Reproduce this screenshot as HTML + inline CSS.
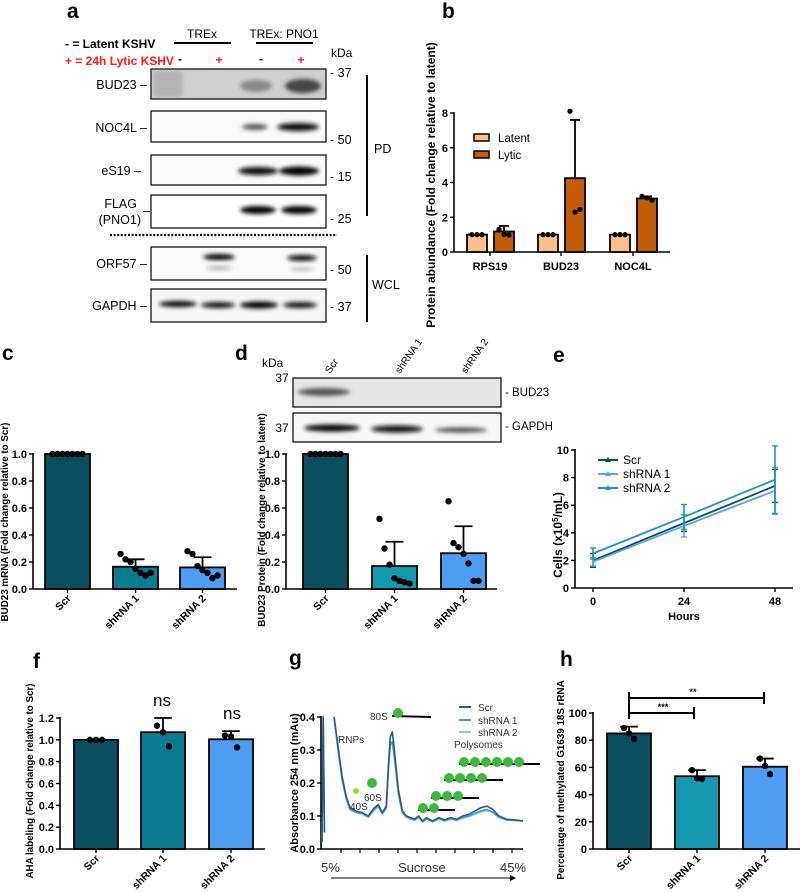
<!DOCTYPE html>
<html><head><meta charset="utf-8"><style>
html,body{margin:0;padding:0;background:#fff}
svg{display:block;font-family:"Liberation Sans",sans-serif}
</style></head><body>
<svg id="fig" width="800" height="892" viewBox="0 0 800 892" xmlns="http://www.w3.org/2000/svg">
<defs>
<filter id="blur2"><feGaussianBlur stdDeviation="2"/></filter>
</defs>
<g font-weight="bold" font-size="21" fill="#000">
<text x="67" y="18">a</text><text x="442" y="18">b</text><text x="2" y="360">c</text>
<text x="235" y="360">d</text><text x="553" y="362">e</text><text x="33" y="668">f</text>
<text x="289" y="665">g</text><text x="560" y="666">h</text>
</g>

<g id="panel-a" font-size="12">
<text x="65" y="48" font-weight="bold" font-size="12">-  = Latent KSHV</text>
<text x="65" y="65" font-weight="bold" font-size="12" fill="#ff1a1a">+ = 24h Lytic KSHV</text>
<text x="202" y="38" text-anchor="middle" font-size="12">TREx</text>
<line x1="174" y1="43" x2="231" y2="43" stroke="#000" stroke-width="2"/>
<text x="284" y="38" text-anchor="middle" font-size="12">TREx: PNO1</text>
<line x1="256" y1="43" x2="313" y2="43" stroke="#000" stroke-width="2"/>
<g font-weight="bold" font-size="12"><text x="180" y="63" text-anchor="middle">-</text><text x="219" y="64" text-anchor="middle" fill="#ff1a1a">+</text><text x="261" y="63" text-anchor="middle">-</text><text x="301" y="64" text-anchor="middle" fill="#ff1a1a">+</text></g>
<text x="331" y="57" font-size="12">kDa</text>
<rect x="151" y="69" width="175" height="30" fill="#cfcfcf" stroke="#000" stroke-width="1.2"/>
<rect x="151" y="111" width="175" height="31" fill="#fafafa" stroke="#000" stroke-width="1.2"/>
<rect x="151" y="155" width="175" height="30" fill="#fafafa" stroke="#000" stroke-width="1.2"/>
<rect x="151" y="195" width="175" height="33" fill="#fff" stroke="#000" stroke-width="1.2"/>
<rect x="151" y="247" width="175" height="33" fill="#fafafa" stroke="#000" stroke-width="1.2"/>
<rect x="151" y="289" width="175" height="33" fill="#f6f6f6" stroke="#000" stroke-width="1.2"/>
<g filter="url(#blur2)">
<rect x="153" y="71" width="30" height="26" fill="#999" opacity="0.5"/>
<ellipse cx="256" cy="86" rx="16" ry="6" fill="#888"/>
<ellipse cx="303" cy="86" rx="18" ry="7" fill="#444"/>
<ellipse cx="255" cy="127" rx="13" ry="3" fill="#555"/>
<ellipse cx="298" cy="127" rx="21" ry="4" fill="#111"/>
<ellipse cx="258" cy="171" rx="20" ry="4" fill="#111"/>
<ellipse cx="299" cy="171" rx="20" ry="4.5" fill="#000"/>
<ellipse cx="258" cy="210" rx="18" ry="4" fill="#000"/>
<ellipse cx="299" cy="210" rx="18" ry="4" fill="#000"/>
<ellipse cx="219" cy="257" rx="16" ry="3" fill="#000"/>
<ellipse cx="302" cy="258" rx="15" ry="3" fill="#111"/>
<ellipse cx="219" cy="268" rx="13" ry="1.5" fill="#999"/>
<ellipse cx="302" cy="269" rx="12" ry="1.5" fill="#aaa"/>
<ellipse cx="178" cy="304" rx="19" ry="3" fill="#000"/>
<ellipse cx="218" cy="305" rx="17" ry="3" fill="#111"/>
<ellipse cx="259" cy="305" rx="19" ry="3.5" fill="#000"/>
<ellipse cx="300" cy="305" rx="17" ry="3" fill="#111"/>
</g>
<g font-size="12.5" text-anchor="end">
<text x="147" y="89">BUD23 –</text><text x="147" y="132">NOC4L –</text><text x="141" y="175">eS19 –</text>
<text x="137" y="208">FLAG</text><text x="141" y="224">(PNO1)</text><text x="150" y="215">–</text>
<text x="147" y="268">ORF57 –</text><text x="147" y="310">GAPDH –</text>
</g>
<g font-size="12.5">
<text x="330" y="77">- 37</text><text x="330" y="144">- 50</text><text x="330" y="181">- 15</text>
<text x="330" y="223">- 25</text><text x="330" y="274">- 50</text><text x="330" y="311">- 37</text>
<text x="374" y="153">PD</text><text x="372" y="289">WCL</text>
</g>
<line x1="367" y1="75" x2="367" y2="216" stroke="#000" stroke-width="2"/>
<line x1="367" y1="255" x2="367" y2="322" stroke="#000" stroke-width="2"/>
<line x1="110" y1="235" x2="337" y2="235" stroke="#000" stroke-width="2.2" stroke-dasharray="2,1.6"/>
</g>

<g id="panel-d-blot" font-size="11">
<text x="262" y="367" font-size="12">kDa</text>
<text x="296" y="382" text-anchor="end" font-size="12">37 -</text>
<text x="296" y="432" text-anchor="end" font-size="12">37 -</text>
<rect x="293" y="378" width="208" height="29" fill="#e6e6e6" stroke="#000" stroke-width="1.2"/>
<rect x="293" y="413" width="208" height="29" fill="#f7f7f7" stroke="#000" stroke-width="1.2"/>
<g filter="url(#blur2)">
<ellipse cx="324" cy="392" rx="26" ry="4" fill="#555"/>
<ellipse cx="332" cy="428" rx="28" ry="3.5" fill="#000"/>
<ellipse cx="397" cy="429" rx="26" ry="3.5" fill="#111"/>
<ellipse cx="461" cy="430" rx="26" ry="2.5" fill="#444"/>
</g>
<text x="505" y="396" font-size="11.5">- BUD23</text>
<text x="505" y="430" font-size="11.5">- GAPDH</text>
<text transform="translate(330,374) rotate(-55)" font-size="10">Scr</text>
<text transform="translate(400,374) rotate(-55)" font-size="10">shRNA 1</text>
<text transform="translate(466,374) rotate(-55)" font-size="10">shRNA 2</text>
</g>

<g id="charts"></g>
</svg>
<script>
// Panel b
const bCategories = ["RPS19","BUD23","NOC4L"];
const bLatent = [1,1,1];
const bLytic = [1.18,4.25,3.08];
const bLyticErr = [1.5,7.6,3.2];
const bLatentDots = [[1,1,1],[1,1,1],[1,1,1]];
const bLyticDots = [[1.3,1.02,0.98],[8.1,2.3,2.45],[3.2,3.12,2.98]];
const bTicks = [0,2,4,6,8];
// Panel c
const cCategories = ["Scr","shRNA 1","shRNA 2"];
const cValues = [1.0,0.165,0.16];
const cErr = [1.0,0.22,0.235];
const cDots = [[1,1,1,1,1,1,1],[0.26,0.22,0.2,0.15,0.12,0.1,0.12],[0.28,0.26,0.17,0.14,0.12,0.08,0.1]];
const cTicks = [0,0.2,0.4,0.6,0.8,1.0];
// Panel d
const dCategories = ["Scr","shRNA 1","shRNA 2"];
const dValues = [1.0,0.17,0.265];
const dErr = [1.0,0.35,0.465];
const dDots = [[1,1,1,1,1,1,1],[0.52,0.3,0.18,0.08,0.06,0.05,0.04],[0.65,0.34,0.31,0.26,0.19,0.06,0.06]];
const dTicks = [0,0.2,0.4,0.6,0.8,1.0];
// Panel e
const eHours = [0,24,48];
const eScr = [2.0,4.7,7.4];
const eSh1 = [1.9,4.5,7.05];
const eSh2 = [2.5,5.15,7.85];
const eScrErr = [0.5,0.6,1.2];
const eSh1Err = [0.3,0.8,1.7];
const eSh2Err = [0.4,0.9,2.45];
const eYTicks = [0,2,4,6,8,10];
// Panel f
const fCategories = ["Scr","shRNA 1","shRNA 2"];
const fValues = [1.0,1.07,1.005];
const fErr = [1.0,1.2,1.08];
const fDots = [[1,1,1],[1.13,1.07,0.94],[1.04,1.03,0.93]];
const fTicks = [0,0.2,0.4,0.6,0.8,1.0,1.2];
// Panel g (fraction position 0..100 along gradient; null = gap)
const gX = [0,0.6,1.2,2,6,8,10,12,14,17,20,23,26,28,30,32,33,34,35,36,38,40,42,44,46,48,50,52,55,58,61,64,67,70,73,76,79,82,85,88,92,96,100];
const gScr = [0.02,0.4,0.05,null,0.4,0.31,0.22,0.16,0.125,0.115,0.11,0.10,0.125,0.135,0.11,0.13,0.25,0.34,0.355,0.3,0.18,0.115,0.1,0.095,0.09,0.1,0.085,0.095,0.085,0.095,0.088,0.095,0.09,0.1,0.105,0.115,0.125,0.13,0.12,0.1,0.09,0.088,0.085];
const gSh1 = [0.02,0.4,0.05,null,0.4,0.30,0.21,0.155,0.12,0.112,0.108,0.098,0.12,0.13,0.108,0.125,0.24,0.32,0.325,0.28,0.17,0.11,0.098,0.092,0.088,0.097,0.083,0.092,0.083,0.092,0.086,0.092,0.088,0.096,0.1,0.108,0.116,0.12,0.112,0.097,0.088,0.087,0.085];
const gSh2 = [0.02,0.4,0.05,null,0.4,0.30,0.21,0.152,0.118,0.11,0.106,0.096,0.118,0.128,0.106,0.122,0.235,0.315,0.32,0.275,0.165,0.108,0.096,0.09,0.086,0.095,0.082,0.09,0.082,0.09,0.085,0.09,0.086,0.094,0.098,0.105,0.112,0.116,0.11,0.095,0.087,0.086,0.084];
const gTicks = [0,0.1,0.2,0.3,0.4];
// Panel h
const hCategories = ["Scr","shRNA 1","shRNA 2"];
const hValues = [85,53.5,60.5];
const hErr = [90,58,66.5];
const hDots = [[89,85,81],[58,52,51.5],[66.5,61,55]];
const hTicks = [0,20,40,60,80,100];

const NS = "http://www.w3.org/2000/svg";
const root = document.getElementById('charts');
function el(tag, attrs, parent, text){
  const e = document.createElementNS(NS, tag);
  for (const k in attrs) e.setAttribute(k, attrs[k]);
  if (text !== undefined) e.textContent = text;
  (parent||root).appendChild(e);
  return e;
}
function linScale(d0,d1,r0,r1){ return v => r0 + (v-d0)/(d1-d0)*(r1-r0); }
function yAxis(g, x, y, ticks, ymin, ymax, fmt, fs){
  el('line',{x1:x,y1:y(ymin),x2:x,y2:y(ymax)-1,stroke:'#000','stroke-width':1.6},g);
  ticks.forEach(t=>{
    el('line',{x1:x-4,y1:y(t),x2:x,y2:y(t),stroke:'#000','stroke-width':1.4},g);
    const tl = el('text',{x:x-6,y:y(t)+4,'text-anchor':'end','font-size':fs||11,'font-weight':'bold'},g,fmt(t));
    
    
  });
}
function barChart(cfg){
  const g = el('g',{});
  
  
  const y = linScale(0, cfg.ymax, cfg.y0, cfg.yTop);
  yAxis(g, cfg.ax, y, cfg.ticks, 0, cfg.ymax, cfg.fmt, cfg.fs);
  el('line',{x1:cfg.ax,y1:cfg.y0,x2:cfg.axEnd,y2:cfg.y0,stroke:'#000','stroke-width':1.6},g);
  cfg.values.forEach((v,i)=>{
    const x0 = cfg.bx[i], w = cfg.bw, cx = x0 + w/2;
    const et = y(cfg.err[i]);
    el('line',{x1:cx,y1:y(v),x2:cx,y2:et,stroke:'#000','stroke-width':1.8},g);
    el('line',{x1:cx-w*0.2,y1:et,x2:cx+w*0.2,y2:et,stroke:'#000','stroke-width':1.8},g);
    const r = el('rect',{x:x0,y:y(v),width:w,height:cfg.y0-y(v),fill:cfg.colors[i],stroke:'#000','stroke-width':1.8},g);
    
    
    const dots = cfg.dots[i], n = dots.length;
    dots.forEach((d,j)=>{
      const off = n>1 ? (j-(n-1)/2)*(cfg.dotSpread||5) : 0;
      el('circle',{cx:cx+off,cy:y(d),r:cfg.dr||3.2,fill:'#000'},g);
    });
    el('line',{x1:cx,y1:cfg.y0,x2:cx,y2:cfg.y0+4,stroke:'#000','stroke-width':1.4},g);
    const lbl = el('text',{transform:`translate(${cx+4},${cfg.y0+10}) rotate(-45)`,'text-anchor':'end','font-size':cfg.lfs||10.5,'font-weight':'bold'},g,cfg.categories[i]);
    
    
  });
  const t = el('text',{transform:`translate(${cfg.tx},${cfg.ty}) rotate(-90)`,'text-anchor':'middle','font-size':cfg.tfs||10,'font-weight':'bold'},g,cfg.title);
  
  
  return {g,y};
}
const teal='#0a4f5f', mid='#0b7d92', light='#4d9df3';

barChart({name:'panel-c-chart',categories:cCategories,values:cValues,err:cErr,dots:cDots,ticks:cTicks,ymax:1.0,y0:589,yTop:454,ax:33,axEnd:237,bx:[45,113,180],bw:45,colors:[teal,mid,light],fmt:t=>t.toFixed(1),title:'BUD23 mRNA (Fold change relative to Scr)',tx:8,ty:522,dotSpread:5,tfs:9.8});
barChart({name:'panel-d-chart',categories:dCategories,values:dValues,err:dErr,dots:dDots,ticks:dTicks,ymax:1.0,y0:589,yTop:454,ax:286,axEnd:497,bx:[303,372,441],bw:45,colors:[teal,'#0f9bb0',light],fmt:t=>t.toFixed(1),title:'BUD23 Protein (Fold change relative to latent)',tx:265,ty:520,dotSpread:5,tfs:9.8});
barChart({name:'panel-f-chart',categories:fCategories,values:fValues,err:fErr,dots:fDots,ticks:fTicks,ymax:1.2,y0:849,yTop:718,ax:60,axEnd:265,bx:[74,141,209],bw:44,colors:[teal,mid,light],fmt:t=>t.toFixed(1),title:'AHA labeling (Fold change relative to Scr)',tx:33,ty:781,dotSpread:6,tfs:9.8});
barChart({name:'panel-h-chart',categories:hCategories,values:hValues,err:hErr,dots:hDots,ticks:hTicks,ymax:100,y0:849,yTop:713,ax:593,axEnd:800,bx:[607,675,743],bw:44,colors:[teal,'#1499b0',light],fmt:t=>String(t),title:'Percentage of methylated G1639 18S rRNA',tx:564,ty:780,dotSpread:5,tfs:9.8});
[['ns',162,706],['ns',232,719]].forEach(a=>{const t=el('text',{x:a[1],y:a[2],'text-anchor':'middle','font-size':17},root,a[0]);

});
const sig = el('g',{stroke:'#000','stroke-width':2});


el('line',{x1:629,y1:698,x2:764,y2:698},sig);el('line',{x1:629,y1:692,x2:629,y2:719},sig);el('line',{x1:764,y1:692,x2:764,y2:704},sig);
el('line',{x1:629,y1:713,x2:694,y2:713},sig);el('line',{x1:694,y1:707,x2:694,y2:719},sig);
el('text',{x:693,y:695,'text-anchor':'middle','font-size':9,'font-weight':'bold'},root,'**');
el('text',{x:663,y:710,'text-anchor':'middle','font-size':9,'font-weight':'bold'},root,'***');

(function(){
  const g = el('g',{});
  
  
  const y = linScale(0,8,252,113);
  yAxis(g,454,y,bTicks,0,8,t=>String(t),11);
  el('line',{x1:454,y1:252,x2:670,y2:252,stroke:'#000','stroke-width':1.6},g);
  const lx=[467,538,610], w=20, gap=27;
  bCategories.forEach((c,i)=>{
    [[bLatent[i],null,bLatentDots[i],'#fdc08a',lx[i]],[bLytic[i],bLyticErr[i],bLyticDots[i],'#c35c06',lx[i]+gap]].forEach(s=>{
      const cx=s[4]+w/2;
      if(s[1]!==null){el('line',{x1:cx,y1:y(s[0]),x2:cx,y2:y(s[1]),stroke:'#000','stroke-width':1.8},g);el('line',{x1:cx-5,y1:y(s[1]),x2:cx+5,y2:y(s[1]),stroke:'#000','stroke-width':1.8},g);}
      const r=el('rect',{x:s[4],y:y(s[0]),width:w,height:252-y(s[0]),fill:s[3],stroke:'#000','stroke-width':1.8},g);
      
      
      s[2].forEach((d,j)=>el('circle',{cx:cx+(j-1)*5,cy:y(d),r:2.6,fill:'#000'},g));
    });
    const cx=lx[i]+23;
    el('line',{x1:cx,y1:252,x2:cx,y2:256,stroke:'#000','stroke-width':1.4},g);
    const t=el('text',{x:cx,y:270,'text-anchor':'middle','font-size':11,'font-weight':'bold'},g,c);
    
    
  });
  [['Latent','#fdc08a',138],['Lytic','#c35c06',155]].forEach(l=>{
    el('rect',{x:474,y:l[2]-4,width:15,height:7,fill:l[1],stroke:'#000','stroke-width':1.5},g);
    const t=el('text',{x:498,y:l[2]+4,'font-size':11.5},g,l[0]);
    
    
  });
  const t=el('text',{transform:'translate(435,185) rotate(-90)','text-anchor':'middle','font-size':12,'font-weight':'bold'},g,'Protein abundance (Fold change relative to latent)');
  
  
})();

(function(){
  const g = el('g',{});
  
  
  const y = linScale(0,10,588,450), x = linScale(0,48,593,775);
  yAxis(g,575,y,eYTicks,0,10,t=>String(t),11);
  el('line',{x1:575,y1:588,x2:793,y2:588,stroke:'#000','stroke-width':1.6},g);
  eHours.forEach(hh=>{el('line',{x1:x(hh),y1:588,x2:x(hh),y2:592,stroke:'#000','stroke-width':1.4},g);
    const t=el('text',{x:x(hh),y:605,'text-anchor':'middle','font-size':11,'font-weight':'bold'},g,String(hh));
    
    });
  const ser=[[eScr,eScrErr,'#0e4d5c','Scr'],[eSh1,eSh1Err,'#5aa2f2','shRNA 1'],[eSh2,eSh2Err,'#1a9ab0','shRNA 2']];
  ser.forEach((s,k)=>{
    s[0].forEach((v,i)=>{const cx=x(eHours[i]);
      el('line',{x1:cx,y1:y(v-s[1][i]),x2:cx,y2:y(v+s[1][i]),stroke:s[2],'stroke-width':1.6},g);
      el('line',{x1:cx-3,y1:y(v-s[1][i]),x2:cx+3,y2:y(v-s[1][i]),stroke:s[2],'stroke-width':1.4},g);
      el('line',{x1:cx-3,y1:y(v+s[1][i]),x2:cx+3,y2:y(v+s[1][i]),stroke:s[2],'stroke-width':1.4},g);});
    const p=el('polyline',{points:s[0].map((v,i)=>x(eHours[i])+','+y(v)).join(' '),fill:'none',stroke:s[2],'stroke-width':1.8},g);
    
    
    const ly=460+k*14;
    el('line',{x1:598,y1:ly,x2:618,y2:ly,stroke:s[2],'stroke-width':2},g);
    el('path',{d:`M605,${ly+2}l3,-5l3,5z`,fill:s[2]},g);
    const t=el('text',{x:623,y:ly+4,'font-size':12},g,s[3]);
    
    
  });
  let t=el('text',{x:684,y:620,'text-anchor':'middle','font-size':11,'font-weight':'bold'},g,'Hours');
  
  
  t=el('text',{transform:'translate(562,535) rotate(-90)','text-anchor':'middle','font-size':12,'font-weight':'bold'},g);
  
  
  t.innerHTML='Cells (x10<tspan dy="-4" font-size="8">5</tspan><tspan dy="4">/mL)</tspan>';
})();

(function(){
  const g = el('g',{});
  
  
  const y = linScale(0,0.4,849,717), x = linScale(0,100,322,523);
  yAxis(g,321,y,gTicks,0,0.4,t=>t.toFixed(1),11);
  el('line',{x1:321,y1:849,x2:523,y2:849,stroke:'#000','stroke-width':1.4},g);
  for(let i=0;i<10;i++){const tx=341+i*19;el('line',{x1:tx,y1:849,x2:tx,y2:853,stroke:'#000','stroke-width':1.2},g);}
  [[gSh2,'#8cc6ee'],[gSh1,'#3f9fc9'],[gScr,'#2b5a86']].forEach(s=>{
    let segs=[[]];
    s[0].forEach((v,i)=>{ if(v===null){segs.push([]);} else segs[segs.length-1].push(x(gX[i])+','+y(v)); });
    segs.forEach(pts=>{
      const p=el('polyline',{points:pts.join(' '),fill:'none',stroke:s[1],'stroke-width':1.6,'stroke-linejoin':'round'},g);
      
      
    });
  });
  [['Scr','#2b5a86',707],['shRNA 1','#3f9fc9',720],['shRNA 2','#8cc6ee',732]].forEach(l=>{
    el('line',{x1:459,y1:l[2],x2:471,y2:l[2],stroke:l[1],'stroke-width':2},g);
    const t=el('text',{x:478,y:l[2]+4,'font-size':10,fill:'#333'},g,l[0]);
    
    
  });
  const lab=(s,xx,yy,fs)=>{const t=el('text',{x:xx,y:yy,'font-size':fs||10,fill:'#333'},g,s);
    
    };
  lab('RNPs',338,743);lab('80S',370,720);lab('40S',350,810);lab('60S',364,801);lab('Polysomes',454,748);
  lab('5%',321,872,13);lab('Sucrose',398,872,13);lab('45%',500,872,13);
  el('line',{x1:331,y1:878,x2:512,y2:878,stroke:'#000','stroke-width':1},g);
  el('path',{d:'M516,878l-6,-3v6z',fill:'#000'},g);
  const gr='#3cb93c';
  el('circle',{cx:356,cy:791,r:3,fill:'#8fe03a'},g);
  el('circle',{cx:372,cy:783,r:5,fill:gr},g);
  el('line',{x1:392,y1:716,x2:431,y2:717,stroke:'#000','stroke-width':2},g);
  el('circle',{cx:398,cy:713,r:5,fill:gr},g);
  [[418,809,2],[431,797,3],[444,779,4],[459,763,6]].forEach(c=>{
    el('line',{x1:c[0],y1:c[1]+1,x2:c[0]+c[2]*11+15,y2:c[1]+1,stroke:'#000','stroke-width':2},g);
    for(let i=0;i<c[2];i++) el('circle',{cx:c[0]+5+i*11,cy:c[1]-1,r:5,fill:gr},g);
  });
  const t=el('text',{transform:'translate(298,783) rotate(-90)','text-anchor':'middle','font-size':11,'font-weight':'bold'},g,'Absorbance 254 nm (mAu)');
  
  
})();
</script>
</body></html>
